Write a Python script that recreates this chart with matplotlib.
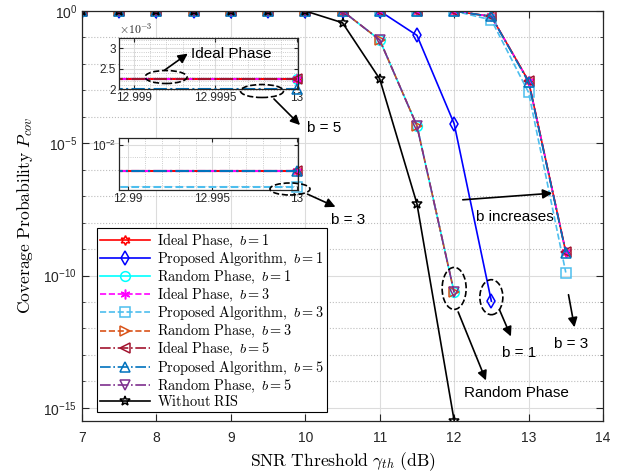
import numpy as np
import matplotlib
matplotlib.use('Agg')
import matplotlib.pyplot as plt
from matplotlib.patches import Ellipse, FancyArrowPatch
from matplotlib.ticker import FixedLocator, NullFormatter

plt.rcParams['font.family'] = ['Liberation Sans', 'DejaVu Sans']
plt.rcParams['mathtext.fontset'] = 'cm'

# SNR threshold grid (dB)
snr = [7, 7.5, 8, 8.5, 9, 9.5, 10, 10.5, 11, 11.5, 12, 12.5, 13, 13.5]

# coverage probability for each scheme (points below the plotted range are dropped)
ideal_b1 = [1, 1, 1, 1, 1, 1, 1, 1, 1, 1, 1, 0.62, 2.24e-3, 7.8e-10]
prop_b1 = [1, 1, 1, 1, 1, 1, 1, 1, 1, 0.12, 5.5e-5, 1.07e-11]
rand_b1 = [1, 1, 1, 1, 1, 1, 1, 1, 0.081, 4.6e-5, 2.3e-11]
ideal_b3 = [1, 1, 1, 1, 1, 1, 1, 1, 1, 1, 1, 0.62, 2.24e-3, 7.8e-10]
prop_b3 = [1, 1, 1, 1, 1, 1, 1, 1, 1, 1, 1, 0.46, 8.3e-4, 1.3e-10]
rand_b3 = [1, 1, 1, 1, 1, 1, 1, 1, 0.081, 4.6e-5, 2.3e-11]
ideal_b5 = [1, 1, 1, 1, 1, 1, 1, 1, 1, 1, 1, 0.62, 2.24e-3, 7.8e-10]
prop_b5 = [1, 1, 1, 1, 1, 1, 1, 1, 1, 1, 1, 0.62, 2.0e-3, 7.4e-10]
rand_b5 = [1, 1, 1, 1, 1, 1, 1, 1, 0.081, 4.6e-5, 2.3e-11]
no_ris = [1, 1, 1, 1, 1, 1, 1, 0.36, 2.7e-3, 5.2e-8, 3.3e-16]

# zoomed values near 13 dB for the second inset
inset2_ideal = [7.98e-3, 7.98e-3]
inset2_prop_b3 = [6.95e-3, 6.95e-3]

m_red = (1, 0, 0)
m_blue = (0, 0, 1)
m_cyan = (0, 1, 1)
m_mag = (1, 0, 1)
m_lblue = (0.301, 0.745, 0.933)
m_orange = (0.85, 0.325, 0.098)
m_dred = (0.635, 0.078, 0.184)
m_dblue = (0, 0.447, 0.741)
m_purple = (0.494, 0.184, 0.556)

series = [
    (ideal_b1, m_red, '-', (6, 1, 0), r'$\mathrm{Ideal\ Phase,}\ b = 1$'),
    (prop_b1, m_blue, '-', 'd', r'$\mathrm{Proposed\ Algorithm,}\ b = 1$'),
    (rand_b1, m_cyan, '-', 'o', r'$\mathrm{Random\ Phase,}\ b = 1$'),
    (ideal_b3, m_mag, '--', (6, 2, 0), r'$\mathrm{Ideal\ Phase,}\ b = 3$'),
    (prop_b3, m_lblue, '--', 's', r'$\mathrm{Proposed\ Algorithm,}\ b = 3$'),
    (rand_b3, m_orange, '--', '>', r'$\mathrm{Random\ Phase,}\ b = 3$'),
    (ideal_b5, m_dred, '-.', '<', r'$\mathrm{Ideal\ Phase,}\ b = 5$'),
    (prop_b5, m_dblue, '-.', '^', r'$\mathrm{Proposed\ Algorithm,}\ b = 5$'),
    (rand_b5, m_purple, '-.', 'v', r'$\mathrm{Random\ Phase,}\ b = 5$'),
    (no_ris, 'k', '-', '*', r'$\mathrm{Without\ RIS}$'),
]

W, H = 630, 474
fig = plt.figure(figsize=(W / 100, H / 100), dpi=100)
ax = fig.add_axes([82 / W, 1 - 421 / H, 521 / W, 410 / H])

axc = (0.15, 0.15, 0.15)
for y, c, ls, mk, lab in series:
    ax.plot(snr[:len(y)], y, color=c, ls=ls, marker=mk, ms=7, mfc='none',
            mew=1.1, lw=1.2, label=lab)

ax.set_yscale('log')
ax.set_xlim(7, 14)
ax.set_ylim(10 ** -15.5, 1)
ax.set_yticks([1e-15, 1e-10, 1e-5, 1])
ax.yaxis.set_minor_locator(FixedLocator([10.0 ** k for k in range(-15, 1)]))
ax.yaxis.set_minor_formatter(NullFormatter())
ax.set_xticks(range(7, 15))
ax.grid(True, which='major', color='#dcdcdc', lw=0.8, ls='-')
ax.grid(True, which='minor', axis='y', color='#bdbdbd', lw=0.8, ls=':')
ax.set_axisbelow(True)
ax.tick_params(which='both', direction='in', top=True, right=True,
               colors=axc, labelsize=10, labelcolor=axc)
ax.tick_params(which='major', length=5)
ax.tick_params(axis='x', pad=7)
ax.tick_params(which='minor', length=2.5)
for s in ax.spines.values():
    s.set_color(axc)
    s.set_linewidth(0.9)

ax.set_xlabel(r'$\mathrm{SNR\ Threshold}\ \gamma_{th}\ \mathrm{(dB)}$', fontsize=12.6, labelpad=4)
ax.set_ylabel(r'$\mathrm{Coverage\ Probability}\ P_{cov}$', fontsize=12.6, labelpad=6)

leg = ax.legend(loc='lower left', bbox_to_anchor=(97 / W, 1 - 412 / H),
                bbox_transform=fig.transFigure, borderaxespad=0, fontsize=10.3,
                fancybox=False, framealpha=1, edgecolor='k', handlelength=3.5,
                handletextpad=0.5, labelspacing=-0.03, borderpad=0.2)
leg.get_frame().set_linewidth(0.8)

mkw = dict(ms=7, mfc='none', mew=1.1, ls='none', clip_on=False)

# inset 1: linear zoom near 13 dB
ax1 = fig.add_axes([119 / W, 1 - 89 / H, 179 / W, 51 / H])
xi1 = [12.998, 13.0]
i13 = snr.index(13)
for y, c, ls, mk in [(rand_b1, m_cyan, '-', 'o'),
                     (ideal_b1, m_red, '-', (6, 1, 0)),
                     (ideal_b3, m_mag, '--', (6, 2, 0)),
                     (ideal_b5, m_dred, '-.', '<')]:
    v = ideal_b1[i13]
    ax1.plot(xi1, [v, v], color=c, ls=ls, lw=1.5)
    ax1.plot([13.0], [v], color=c, marker=mk, **mkw)
ax1.plot(xi1, [prop_b5[i13]] * 2, color=m_dblue, ls='-.', lw=1.5)
ax1.plot([13.0], [prop_b5[i13]], color=m_dblue, marker='^', **mkw)
ax1.set_xlim(12.99891, 13.000006)
ax1.set_ylim(2.0e-3, 3.25e-3)
ax1.set_xticks([12.999, 12.9995, 13])
ax1.set_xticklabels(['12.999', '12.9995', '13'])
ax1.set_yticks([2e-3, 2.5e-3, 3e-3])
ax1.set_yticklabels(['2', '2.5', '3'])
ax1.xaxis.set_minor_locator(FixedLocator(np.arange(12.9989, 13.00001, 0.0001)))
ax1.yaxis.set_minor_locator(FixedLocator(np.arange(2.0e-3, 3.26e-3, 1e-4)))
ax1.text(0, 1.02, r'$\times10^{-3}$', transform=ax1.transAxes, fontsize=8.5,
         color=axc, ha='left', va='bottom')

# inset 2: log zoom near 13 dB
ax2 = fig.add_axes([119 / W, 1 - 190 / H, 179 / W, 52 / H])
xi2 = [12.985, 13.0]
for c, ls, mk in [(m_red, '-', (6, 1, 0)), (m_mag, '--', (6, 2, 0)),
                  (m_dred, '-.', '<'), (m_dblue, '-.', '^')]:
    ax2.plot(xi2, inset2_ideal, color=c, ls=ls, lw=1.5)
    ax2.plot([13.0], inset2_ideal[-1:], color=c, marker=mk, **mkw)
ax2.plot(xi2, inset2_prop_b3, color=m_lblue, ls='--', lw=1.5)
ax2.plot([13.0], inset2_prop_b3[-1:], color=m_lblue, marker='s', **mkw)
ax2.set_yscale('log')
ax2.set_xlim(12.98947, 13.00006)
ax2.set_ylim(6.76e-3, 1.062e-2)
ax2.set_yticks([1e-2])
ax2.yaxis.set_minor_locator(FixedLocator([7e-3, 8e-3, 9e-3]))
ax2.yaxis.set_minor_formatter(NullFormatter())
ax2.set_xticks([12.99, 12.995, 13])
ax2.set_xticklabels(['12.99', '12.995', '13'])
ax2.xaxis.set_minor_locator(FixedLocator(np.arange(12.99, 13.0001, 0.001)))

for a in (ax1, ax2):
    a.set_zorder(3)
    a.set_facecolor('white')
    a.grid(True, which='major', color='#dcdcdc', lw=0.8)
    a.grid(True, which='minor', color='#bdbdbd', lw=0.6, ls=':')
    a.tick_params(which='both', direction='in', top=True, right=True,
                  colors=axc, labelsize=8.5, labelcolor=axc, pad=2)
    a.tick_params(which='major', length=3)
    a.tick_params(which='minor', length=0)
    for s in a.spines.values():
        s.set_color(axc)
        s.set_linewidth(0.9)


def fp(px, py):
    return (px / W, 1 - py / H)


def ellipse(cx, cy, w, h):
    fig.add_artist(Ellipse(fp(cx, cy), w / W, h / H, transform=fig.transFigure,
                           fill=False, ec='k', ls='--', lw=1.2, zorder=10))


def arrow(x0, y0, x1, y1):
    fig.add_artist(FancyArrowPatch(fp(x0, y0), fp(x1, y1), transform=fig.transFigure,
                                   arrowstyle='-|>', mutation_scale=14, color='k',
                                   lw=1.2, zorder=10))


def label(px, py, s):
    fig.text(px / W, 1 - py / H, s, fontsize=11, ha='left', va='center', zorder=10)


def data_px(x, y):
    dx, dy = ax.transData.transform((x, y))
    return dx, H - dy


ellipse(166, 77, 42, 13)
arrow(162, 72, 190, 52)
label(191, 54, 'Ideal Phase')

ellipse(262, 91, 43, 13)
arrow(272, 97, 302, 127)
label(307, 128, 'b = 5')

ellipse(290, 189, 40, 12)
arrow(305, 193, 338, 208)
label(331, 220, 'b = 3')

arrow(460, 200, 555, 193)
label(476, 217, 'b increases')

rx, ry = data_px(12, rand_b1[-1])
ellipse(rx, ry - 4, 24, 42)
arrow(rx + 3, ry + 17, 487, 383)
label(464, 393, 'Random Phase')

bx, by = data_px(12.5, prop_b1[-1])
ellipse(bx, by - 4, 23, 35)
arrow(bx + 7, by + 6, 512, 339)
label(502, 353, 'b = 1')

arrow(568, 292, 575, 330)
label(554, 344, 'b = 3')

fig.savefig('out.png', dpi=100)
